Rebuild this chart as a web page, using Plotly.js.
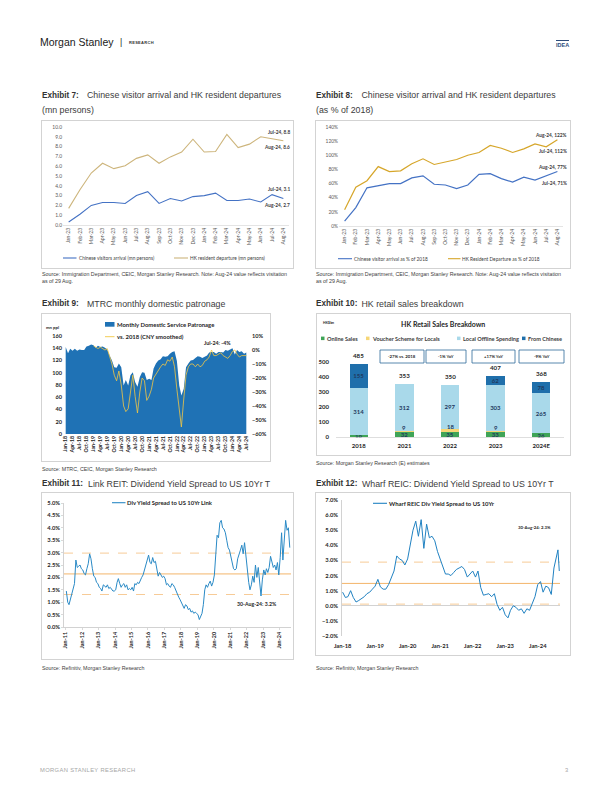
<!DOCTYPE html>
<html><head><meta charset="utf-8">
<script src="https://cdn.plot.ly/plotly-3.0.1.min.js"></script>
<style>
html,body{margin:0;padding:0;background:#fff}
body{position:relative;width:612px;height:792px;overflow:hidden;font-family:'Liberation Sans',Arial,sans-serif}
.tx{position:absolute;white-space:nowrap;line-height:1;color:#404040}
.ttl{font-size:8.8px;color:#3c3c3c}
.ex{font-size:8.2px;font-weight:bold;color:#333}
.src{font-size:5.3px;color:#404040}
.ch{position:absolute;outline:0.7px solid #d3d3d3;outline-offset:-0.7px}
</style></head><body>
<div class="tx" style="left:40px;top:37px;font-size:10.5px;color:#1a1a1a">Morgan Stanley</div>
<div class="tx" style="left:120px;top:38px;font-size:8.5px;color:#1a1a1a">|</div>
<div class="tx" style="left:129px;top:41px;font-size:4px;font-weight:bold;letter-spacing:0.3px;color:#333">RESEARCH</div>
<div class="tx" style="left:556px;top:40px;font-size:5.5px;font-weight:bold;color:#2e4d7b;border-top:1px solid #2e4d7b;padding-top:1.5px">IDEA</div>

<div class="tx ex" style="left:42px;top:91.5px">Exhibit 7:</div>
<div class="tx ttl" style="left:87px;top:91px">Chinese visitor arrival and HK resident departures</div>
<div class="tx ttl" style="left:42px;top:105.5px">(mn persons)</div>
<div class="tx ex" style="left:316px;top:91.5px">Exhibit 8:</div>
<div class="tx ttl" style="left:361.5px;top:91px">Chinese visitor arrival and HK resident departures</div>
<div class="tx ttl" style="left:316px;top:105.5px">(as % of 2018)</div>
<div class="tx src" style="left:42px;top:271.5px">Source: Immigration Department, CEIC, Morgan Stanley Research. Note: Aug-24 value reflects visitation</div>
<div class="tx src" style="left:42px;top:279px">as of 29 Aug.</div>
<div class="tx src" style="left:316px;top:271.5px">Source: Immigration Department, CEIC, Morgan Stanley Research. Note: Aug-24 value reflects visitation</div>
<div class="tx src" style="left:316px;top:279px">as of 29 Aug.</div>

<div class="tx ex" style="left:42px;top:300px">Exhibit 9:</div>
<div class="tx ttl" style="left:87px;top:299.5px">MTRC monthly domestic patronage</div>
<div class="tx ex" style="left:316px;top:300px">Exhibit 10:</div>
<div class="tx ttl" style="left:361.5px;top:299.5px">HK retail sales breakdown</div>
<div class="tx src" style="left:42px;top:466.5px">Source: MTRC, CEIC, Morgan Stanley Research</div>
<div class="tx src" style="left:316px;top:460.5px">Source: Morgan Stanley Research (E) estimates</div>

<div class="tx ex" style="left:42px;top:480px">Exhibit 11:</div>
<div class="tx ttl" style="left:88px;top:479.5px">Link REIT: Dividend Yield Spread to US 10Yr T</div>
<div class="tx ex" style="left:316px;top:480px">Exhibit 12:</div>
<div class="tx ttl" style="left:362px;top:479.5px">Wharf REIC: Dividend Yield Spread to US 10Yr T</div>
<div class="tx src" style="left:42px;top:665.5px">Source: Refinitiv, Morgan Stanley Research</div>
<div class="tx src" style="left:316px;top:666px">Source: Refinitiv, Morgan Stanley Research</div>

<div class="tx" style="left:40px;top:768px;font-size:5.8px;color:#a6a6a6;letter-spacing:0.35px">MORGAN STANLEY RESEARCH</div>
<div class="tx" style="left:565px;top:768px;font-size:5.8px;color:#a6a6a6">3</div>

<script>
// ---------------- DATA ----------------
// Exhibit 7 / 8
const months7 = ['Jan-23','Feb-23','Mar-23','Apr-23','May-23','Jun-23','Jul-23','Aug-23','Sep-23','Oct-23','Nov-23','Dec-23','Jan-24','Feb-24','Mar-24','Apr-24','May-24','Jun-24','Jul-24','Aug-24'];
const cnArrivalMn = [0.3,1.1,2.0,2.3,2.3,2.2,3.0,3.4,2.2,2.7,2.45,2.9,3.0,3.25,2.5,2.5,2.65,2.35,3.1,2.7];
const hkDepartMn  = [1.7,3.6,5.3,6.3,5.75,6.05,6.8,7.15,6.3,6.95,7.45,8.75,7.45,7.5,9.25,7.9,8.25,9.0,8.8,8.6];
const cnArrivalPct = [7,26,54,57,60,60,68,71,59,58,53,58,73,74,67,62,69,65,71,77];
const hkDepartPct  = [23,55,64,84,77,78,88,95,87,90,94,100,104,114,110,104,109,116,112,122];

// Exhibit 9 (Jan-18 .. Jul-24)
const mtrPatronage = [
 142,132,139,136,139,136,138,137,137,143,144,146,
 145,141,144,142,143,141,138,128,120,109,108,115,
 109,79,88,79,96,101,85,77,93,101,100,88,
 90,88,107,115,120,122,127,126,127,131,134,135,
 119,79,63,74,109,115,120,121,124,127,126,124,
 126,128,133,134,134,131,134,134,133,137,136,138,
 140,130,137,134,135,131,133];
const mtrVs2018 = [
 null,null,null,null,null,null,null,null,null,null,null,null,
 3,2,1,2,1,0,1,-4,-10,-18,-22,-15,
 -25,-40,-44,-42,-28,-18,-33,-45,-30,-20,-22,-36,
 -33,-28,-20,-17,-14,-12,-10,-11,-7,-8,-5,-12,
 -28,-42,-55,-35,-18,-12,-10,-10,-12,-10,-12,-11,
 -8,-7,-5,0,-4,-4,-3,-2,-4,-5,-6,-4,
 -1,0,-3,-5,-4,-4,-4];

// Exhibit 10
const retailYears   = ['2018','2021','2022','2023','2024E'];
const onlineSales   = [16,32,35,33,26];
const voucherScheme = [0,9,18,9,0];
const localOffline  = [314,312,297,303,265];
const fromChinese   = [155,0,0,62,78];
const retailTotals  = [485,353,350,407,368];
const yoyLabels     = ['-27% vs. 2018','-1% YoY','+17% YoY','-9% YoY'];

// Exhibit 11 (monthly Jan-11 .. Aug-24)
const linkSpread = [
 1.45,1.0,0.9,1.1,1.4,1.55,1.75,2.7,2.4,2.45,2.5,2.35,
 2.3,2.15,2.1,2.35,2.55,2.95,2.75,2.35,2.05,2.0,1.8,1.75,
 1.6,1.55,1.45,1.7,1.65,1.6,1.7,1.55,1.6,1.5,1.45,1.45,
 1.5,1.8,1.95,1.75,1.6,1.7,1.75,1.6,1.7,1.5,1.55,1.5,
 1.6,1.45,1.75,1.7,1.8,1.75,1.9,2.0,2.1,2.3,2.4,2.7,
 2.9,2.6,2.55,2.8,2.6,2.65,2.4,2.05,2.2,2.1,2.0,2.05,
 1.95,1.7,1.75,1.65,1.6,1.75,1.7,1.6,1.45,1.3,1.2,1.1,
 1.0,0.85,0.75,0.9,0.85,0.7,0.75,0.6,0.65,0.55,0.6,0.55,
 0.5,0.3,0.45,0.55,0.9,1.5,1.7,1.6,1.75,1.85,1.65,1.8,
 2.1,3.2,3.7,3.6,4.2,4.3,4.0,3.95,3.8,3.5,3.2,3.1,
 2.8,2.5,2.35,2.3,2.35,2.75,2.9,3.1,3.3,2.95,3.4,2.9,
 2.2,1.8,1.5,1.7,2.05,1.8,2.5,2.0,2.4,1.65,1.25,1.9,
 2.3,2.1,2.35,2.2,2.4,2.85,2.6,2.4,2.5,2.3,2.6,2.1,
 2.8,3.8,2.7,3.5,4.3,3.9,4.0,3.2];
const linkBands = [1.31,2.14,2.98]; // -1sd, mean, +1sd

// Exhibit 12 (monthly Jan-18 .. Jul-24, then Aug-24 points)
const wharfSpread = [
 0.9,0.55,0.6,1.0,0.55,0.25,0.35,0.45,0.6,0.8,0.9,1.1,
 1.3,1.75,1.25,1.1,1.1,1.4,1.9,2.3,3.3,3.1,3.0,2.7,
 3.1,4.0,5.0,5.6,4.6,5.7,3.8,5.4,4.5,4.6,4.3,3.6,
 3.1,2.5,2.1,2.1,2.0,2.2,2.4,2.5,2.6,2.4,1.9,2.1,
 2.3,1.9,2.3,1.2,0.7,0.75,0.8,0.6,0.8,0.1,-0.3,-0.1,
 -0.6,-0.8,-0.3,0.0,-0.1,-0.3,-0.2,-0.5,-0.2,-0.3,0.1,0.6,
 1.4,1.6,0.9,1.3,1.2,0.75,2.5];
const wharfAugDates = ['2024-08-15','2024-08-30'];
const wharfAugVals  = [3.7,2.3];
const wharfBands = [0.11,1.48,2.89];

// ---------------- HELPERS ----------------
const F = 'Lato, "Liberation Sans", sans-serif';
const GRAY = '#404040', DARK = '#262626';
function monthSeq(y, m, n, d){const out=[];for(let i=0;i<n;i++){const dt=new Date(Date.UTC(y,m+i,d));out.push(dt.toISOString().slice(0,10));}return out;}
function geo(b){return {L:b.left+b.m.l,T:b.top+b.m.t,W:b.width-b.m.l-b.m.r,H:b.height-b.m.t-b.m.b};}
function px(g,X){return (X-g.L)/g.W;}
function py(g,Y){return (g.T+g.H-Y)/g.H;}
function note(g,X,Y,text,o){return Object.assign({xref:'paper',yref:'paper',x:px(g,X),y:py(g,Y),text:text,showarrow:false,xanchor:'left',yanchor:'middle',borderpad:0,font:{family:F,size:5,color:GRAY}},o||{});}
function keyLine(g,X0,X1,Y,color,w,dash){return {type:'line',xref:'paper',yref:'paper',x0:px(g,X0),x1:px(g,X1),y0:py(g,Y),y1:py(g,Y),line:{color:color,width:w||1.2,dash:dash||'solid'}};}
function keyBox(g,X0,Y0,X1,Y1,color,border){return {type:'rect',xref:'paper',yref:'paper',x0:px(g,X0),x1:px(g,X1),y0:py(g,Y1),y1:py(g,Y0),fillcolor:color,line:border?{color:border,width:0.8}:{width:0}};}
function hband(v,color,dash,w){return {type:'line',xref:'paper',yref:'y',x0:0,x1:1,y0:v,y1:v,line:{color:color,width:w,dash:dash},layer:'below'};}
function mk(b){const d=document.createElement('div');d.className='ch';d.style.left=b.left+'px';d.style.top=b.top+'px';d.style.width=b.width+'px';d.style.height=b.height+'px';document.body.appendChild(d);return d;}
function base(b){return {width:b.width,height:b.height,autosize:false,margin:Object.assign({pad:0,autoexpand:false},b.m),paper_bgcolor:'rgba(0,0,0,0)',plot_bgcolor:'rgba(0,0,0,0)',font:{family:F,size:5,color:GRAY},showlegend:false};}
const CFG = {staticPlot:true,displayModeBar:false};

// ---------------- EXHIBIT 7 ----------------
const C_BLUE='#4472c4', C_TAN='#cdb57c', C_GOLD='#d6a62a';
(function(){
 const b={left:42,top:121,width:251,height:147,m:{l:21,r:4,t:6,b:43}}; const g=geo(b);
 const L=base(b);
 L.xaxis={type:'category',range:[-0.5,19.5],tickangle:-90,tickfont:{size:5.1,color:'#595959'},showline:true,linecolor:'#d9d9d9',linewidth:0.7,ticks:'',showgrid:false,zeroline:false};
 L.yaxis={range:[0,10],dtick:1,tickformat:'.1f',showgrid:false,zeroline:false,showline:false,tickfont:{size:4.9,color:'#595959'}};
 const bf={family:F,size:4.8,color:GRAY,weight:'bold'};
 L.annotations=[
  note(g,291,132.3,'Jul-24, 8.8',{xanchor:'right',font:bf}),
  note(g,291,146.7,'Aug-24, 8.6',{xanchor:'right',font:bf}),
  note(g,291,189.3,'Jul-24, 3.1',{xanchor:'right',font:bf}),
  note(g,291,205.3,'Aug-24, 2.7',{xanchor:'right',font:bf}),
  note(g,77.5,258,'Chinese visitors arrival (mn persons)',{font:{family:F,size:4.8,color:GRAY}}),
  note(g,188.5,258,'HK resident departure (mn persons)',{font:{family:F,size:4.8,color:GRAY}})
 ];
 L.shapes=[keyLine(g,63,76.5,258,C_BLUE,1.1),keyLine(g,174,188,258,C_TAN,1.1)];
 Plotly.newPlot(mk(b),[
  {x:months7,y:cnArrivalMn,type:'scatter',mode:'lines',line:{color:C_BLUE,width:1.1},name:'Chinese visitors arrival (mn persons)'},
  {x:months7,y:hkDepartMn,type:'scatter',mode:'lines',line:{color:C_TAN,width:1.1},name:'HK resident departure (mn persons)'}
 ],L,CFG);
})();

// ---------------- EXHIBIT 8 ----------------
(function(){
 const b={left:316,top:121,width:254,height:147,m:{l:23,r:7,t:6,b:42}}; const g=geo(b);
 const L=base(b);
 L.xaxis={type:'category',range:[-0.5,19.5],tickangle:-90,tickfont:{size:5.1,color:'#595959'},showline:true,linecolor:'#d9d9d9',linewidth:0.7,ticks:'',showgrid:false,zeroline:false};
 L.yaxis={range:[0,140],dtick:20,ticksuffix:'%',showgrid:false,zeroline:false,showline:false,tickfont:{size:4.9,color:'#595959'}};
 const bf={family:F,size:4.8,color:GRAY,weight:'bold'};
 L.annotations=[
  note(g,568,135,'Aug-24, 122%',{xanchor:'right',font:bf}),
  note(g,568,150.7,'Jul-24, 112%',{xanchor:'right',font:bf}),
  note(g,568,167.3,'Aug-24, 77%',{xanchor:'right',font:bf}),
  note(g,568,182.7,'Jul-24, 71%',{xanchor:'right',font:bf}),
  note(g,353,258.7,'Chinese visitor arrival as % of 2018',{font:{family:F,size:4.8,color:GRAY}}),
  note(g,461,258.7,'HK Resident Departure as % of 2018',{font:{family:F,size:4.8,color:GRAY}})
 ];
 L.shapes=[keyLine(g,338,352,258.7,C_BLUE,1.1),keyLine(g,448,460.5,258.7,C_GOLD,1.1)];
 Plotly.newPlot(mk(b),[
  {x:months7,y:cnArrivalPct,type:'scatter',mode:'lines',line:{color:C_BLUE,width:1.2},name:'Chinese visitor arrival as % of 2018'},
  {x:months7,y:hkDepartPct,type:'scatter',mode:'lines',line:{color:C_GOLD,width:1.2},name:'HK Resident Departure as % of 2018'}
 ],L,CFG);
})();

// ---------------- EXHIBIT 9 ----------------
const C_AREA='#1f72b5', C_YEL='#f2c744';
(function(){
 const b={left:42,top:314,width:228,height:147,m:{l:23,r:23,t:22,b:27}}; const g=geo(b);
 const dates=monthSeq(2018,0,mtrPatronage.length,1);
 const L=base(b);
 const tf={family:F,size:5.6,color:DARK,weight:'bold'};
 L.xaxis={type:'date',range:['2017-12-23','2024-07-10'],dtick:'M3',tick0:'2018-01-01',tickformat:'%b-%y',tickangle:-90,tickfont:{family:F,size:5.2,color:DARK,weight:'bold'},showgrid:false,zeroline:false,ticks:'',showline:false};
 L.yaxis={range:[0,160],dtick:20,showgrid:false,zeroline:false,showline:false,tickfont:tf,ticklabelstandoff:2};
 L.yaxis2={range:[-60,10],dtick:10,ticksuffix:'%',overlaying:'y',side:'right',showgrid:false,zeroline:false,showline:false,tickfont:tf,ticklabelstandoff:4};
 const lf={family:F,size:5.9,color:DARK,weight:'bold'};
 L.annotations=[
  note(g,45,327.7,'mn ppl',{font:{family:F,size:4.3,color:DARK,weight:'bold'}}),
  note(g,116,324.3,'Monthly Domestic Service Patronage',{font:lf}),
  note(g,116,336.7,'vs. 2018 (CNY smoothed)',{font:lf}),
  note(g,203,342.7,'Jul-24: -4%',{font:{family:F,size:5.3,color:DARK,weight:'bold'}})
 ];
 L.shapes=[keyBox(g,105,322,114.5,326.7,C_AREA),keyLine(g,105,114.5,336.7,C_YEL,0.9)];
 Plotly.newPlot(mk(b),[
  {x:dates,y:mtrPatronage,type:'scatter',mode:'none',fill:'tozeroy',fillcolor:C_AREA,name:'Monthly Domestic Service Patronage'},
  {x:dates,y:mtrVs2018,type:'scatter',mode:'lines',yaxis:'y2',line:{color:C_YEL,width:0.8},connectgaps:false,name:'vs. 2018 (CNY smoothed)'}
 ],L,CFG);
})();

// ---------------- EXHIBIT 10 ----------------
const C_ON='#3fa457', C_VO='#f6d677', C_LO='#a9d9ea', C_CN='#1f6fab';
(function(){
 const b={left:317,top:314,width:253,height:141,m:{l:19,r:6,t:48,b:18}}; const g=geo(b);
 const L=base(b);
 L.barmode='stack'; L.bargap=0.6;
 L.xaxis={type:'category',range:[-0.5,retailYears.length-0.5],autorange:false,tickfont:{family:F,size:6,color:DARK,weight:'bold'},showgrid:false,zeroline:false,showline:true,linecolor:'#d0d0d0',linewidth:0.7,ticks:'',ticklabelstandoff:3};
 L.yaxis={range:[0,500],autorange:false,dtick:100,showgrid:false,zeroline:false,showline:false,tickfont:{family:F,size:6,color:DARK,weight:'bold'},ticklabelstandoff:6};
 const lf={family:F,size:5.6,color:GRAY,weight:'bold'};
 const tfont={family:F,size:6,color:'#1f3a5f',weight:'bold'};
 const ann=[
  note(g,442.5,324.3,'HK Retail Sales Breakdown',{xanchor:'center',font:{family:F,size:7,color:DARK,weight:'bold'}}),
  note(g,322,322.7,'HK$bn',{font:{family:F,size:3.5,color:DARK,weight:'bold'}}),
  note(g,325.5,338.3,'Online Sales',{font:lf}),
  note(g,370.5,338.3,'Voucher Scheme for Locals',{font:lf}),
  note(g,461.5,338.3,'Local Offline Spending',{font:lf}),
  note(g,527,338.3,'From Chinese',{font:lf})
 ];
 const boxX=[[380,424],[426,466],[472,515],[519,564]];
 const shp=[keyBox(g,321,336.6,324.5,340.1,C_ON),keyBox(g,366,336.6,369.5,340.1,C_VO),keyBox(g,457,336.6,460.5,340.1,C_LO),keyBox(g,522,336.6,525.5,340.1,C_CN)];
 yoyLabels.forEach((t,i)=>{
  shp.push(keyBox(g,boxX[i][0],350,boxX[i][1],363,'#ffffff','#2f6a9a'));
  ann.push(note(g,(boxX[i][0]+boxX[i][1])/2,356.5,t,{xanchor:'center',font:{family:F,size:4.3,color:DARK,weight:'bold'}}));
 });
 retailYears.forEach((yr,i)=>{
  ann.push({x:i,y:retailTotals[i],xref:'x',yref:'y',text:String(retailTotals[i]),showarrow:false,yanchor:'bottom',yshift:3,font:{family:F,size:6.2,color:DARK,weight:'bold'}});
  if(voucherScheme[i]>0){
   ann.push({x:i,y:onlineSales[i]+voucherScheme[i],xref:'x',yref:'y',text:String(voucherScheme[i]),showarrow:false,yanchor:'bottom',yshift:-1.5,borderpad:0,font:tfont});
  }
 });
 L.annotations=ann; L.shapes=shp;
 const segs=[[onlineSales,C_ON,'Online Sales',true],[voucherScheme,C_VO,'Voucher Scheme for Locals',false],[localOffline,C_LO,'Local Offline Spending',true],[fromChinese,C_CN,'From Chinese',true]];
 Plotly.newPlot(mk(b),segs.map(s=>({type:'bar',x:retailYears,y:s[0],name:s[2],marker:{color:s[1],line:{width:0}},
   text:s[0].map(v=>(s[3]&&v>0)?String(v):''),textposition:'inside',insidetextanchor:'middle',constraintext:'none',textangle:0,
   textfont:tfont,insidetextfont:tfont,cliponaxis:false})),L,CFG);
})();

// ---------------- EXHIBIT 11 ----------------
const C_LINK='#2a8ac6', C_BAND='#f3b56a';
(function(){
 const b={left:42,top:493,width:251,height:166,m:{l:22,r:2,t:10,b:32}}; const g=geo(b);
 const dates=monthSeq(2011,0,linkSpread.length,15);
 const L=base(b);
 L.xaxis={type:'date',range:['2010-11-24','2024-09-11'],dtick:'M12',tick0:'2011-01-01',tickformat:'%b-%y',tickangle:-90,tickfont:{family:F,size:5.5,color:DARK,weight:'bold'},showgrid:false,zeroline:false,showline:true,linecolor:'#bfbfbf',linewidth:0.7,ticks:'outside',ticklen:2,tickcolor:'#bfbfbf',tickwidth:0.6};
 L.yaxis={range:[0,5],dtick:0.5,tickformat:'.1f',ticksuffix:'%',showgrid:false,zeroline:false,showline:true,linecolor:'#bfbfbf',linewidth:0.7,ticks:'outside',ticklen:2,tickcolor:'#bfbfbf',tickwidth:0.6,tickfont:{family:F,size:5.8,color:DARK,weight:'bold'}};
 L.shapes=[hband(linkBands[0],C_BAND,'dash',0.7),hband(linkBands[1],C_BAND,'solid',1),hband(linkBands[2],C_BAND,'dash',0.7),keyLine(g,112,125.5,502.7,C_LINK,1.1)];
 L.annotations=[
  note(g,126,502.7,'Div Yield Spread to US 10Yr Link',{font:{family:F,size:5.9,color:DARK,weight:'bold'}}),
  note(g,236,604,'30-Aug-24: 3.2%',{font:{family:F,size:5.2,color:DARK,weight:'bold'}})
 ];
 Plotly.newPlot(mk(b),[{x:dates,y:linkSpread,type:'scatter',mode:'lines',line:{color:C_LINK,width:1},name:'Div Yield Spread to US 10Yr Link'}],L,CFG);
})();

// ---------------- EXHIBIT 12 ----------------
const C_WHARF='#2182c2';
(function(){
 const b={left:316,top:493,width:254,height:162,m:{l:26,r:10,t:7,b:19}}; const g=geo(b);
 const dates=monthSeq(2018,0,wharfSpread.length,1).concat(wharfAugDates);
 const vals=wharfSpread.concat(wharfAugVals);
 const L=base(b);
 L.xaxis={type:'date',range:['2017-12-25','2024-09-07'],dtick:'M12',tick0:'2018-01-01',tickformat:'%b-%y',tickangle:0,tickfont:{family:F,size:5.8,color:DARK,weight:'bold'},showgrid:false,zeroline:false,showline:false,ticks:'',ticklabelstandoff:5};
 L.yaxis={range:[-2,7],dtick:1,tickformat:'.1f',ticksuffix:'%',showgrid:false,zeroline:true,zerolinecolor:'#bfbfbf',zerolinewidth:0.7,showline:true,linecolor:'#bfbfbf',linewidth:0.7,tickfont:{family:F,size:5.8,color:DARK,weight:'bold'},ticklabelstandoff:2};
 L.shapes=[hband(wharfBands[0],C_BAND,'dash',0.7),hband(wharfBands[1],C_BAND,'solid',1),hband(wharfBands[2],C_BAND,'dash',0.7),keyLine(g,373,387,503.3,C_WHARF,1.1)];
 L.annotations=[
  note(g,388,503.3,'Wharf REIC Div Yield Spread to US 10Yr',{font:{family:F,size:5.9,color:DARK,weight:'bold'}}),
  note(g,517,527.3,'30-Aug-24: 2.3%',{font:{family:F,size:4.3,color:DARK,weight:'bold'}})
 ];
 Plotly.newPlot(mk(b),[{x:dates,y:vals,type:'scatter',mode:'lines',line:{color:C_WHARF,width:1},name:'Wharf REIC Div Yield Spread to US 10Yr'}],L,CFG);
})();
</script>
</body></html>
